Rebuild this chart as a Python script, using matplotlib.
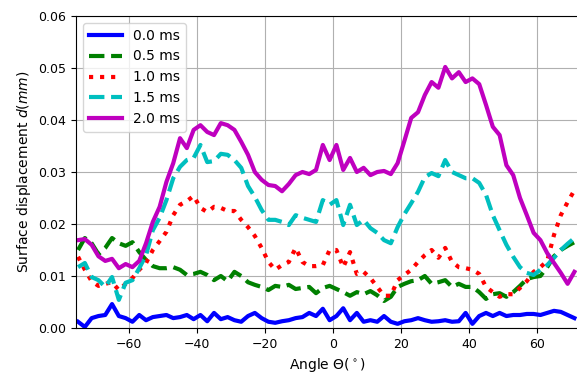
import matplotlib
matplotlib.use('Agg')
import matplotlib.pyplot as plt

# angle grid (deg)
angle = [-75, -73, -71, -69, -67, -65, -63, -61, -59, -57, -55, -53, -51, -49,
         -47, -45, -43, -41, -39, -37, -35, -33, -31, -29, -27, -25, -23, -21,
         -19, -17, -15, -13, -11, -9, -7, -5, -3, -1, 1, 3, 5, 7, 9, 11, 13,
         15, 17, 19, 21, 23, 25, 27, 29, 31, 33, 35, 37, 39, 41, 43, 45, 47,
         49, 51, 53, 55, 57, 59, 61, 63, 65, 67, 69, 71]

d_00 = [0.0012, 0.0002, 0.0019, 0.0023, 0.0025, 0.0046, 0.0023, 0.0019, 0.0012,
        0.0025, 0.0015, 0.0021, 0.0023, 0.0025, 0.0019, 0.0021, 0.0025, 0.0017,
        0.0025, 0.0013, 0.0029, 0.0017, 0.0021, 0.0015, 0.0012, 0.0023, 0.0029,
        0.0019, 0.0012, 0.0010, 0.0013, 0.0015, 0.0019, 0.0021, 0.0029, 0.0023,
        0.0037, 0.0015, 0.0023, 0.0038, 0.0015, 0.0029, 0.0012, 0.0015, 0.0012,
        0.0023, 0.0012, 0.0008, 0.0013, 0.0015, 0.0019, 0.0015, 0.0012, 0.0013,
        0.0015, 0.0012, 0.0013, 0.0029, 0.0008, 0.0023, 0.0029, 0.0023, 0.0029,
        0.0023, 0.0025, 0.0025, 0.0027, 0.0027, 0.0025, 0.0029, 0.0033, 0.0031,
        0.0025, 0.0019]

d_05 = [0.0150, 0.0173, 0.0163, 0.0142, 0.0154, 0.0173, 0.0163, 0.0158, 0.0165,
        0.0146, 0.0131, 0.0119, 0.0115, 0.0115, 0.0117, 0.0112, 0.0102, 0.0104,
        0.0108, 0.0102, 0.0092, 0.0100, 0.0090, 0.0108, 0.0100, 0.0088, 0.0083,
        0.0079, 0.0073, 0.0081, 0.0079, 0.0083, 0.0075, 0.0077, 0.0079, 0.0067,
        0.0077, 0.0081, 0.0075, 0.0069, 0.0062, 0.0069, 0.0065, 0.0071, 0.0063,
        0.0052, 0.0060, 0.0079, 0.0085, 0.0090, 0.0092, 0.0100, 0.0085, 0.0088,
        0.0092, 0.0079, 0.0085, 0.0079, 0.0079, 0.0069, 0.0056, 0.0065, 0.0067,
        0.0060, 0.0069, 0.0081, 0.0094, 0.0098, 0.0100, 0.0117, 0.0138, 0.0150,
        0.0158, 0.0165]

d_10 = [0.0137, 0.0112, 0.0090, 0.0081, 0.0085, 0.0088, 0.0073, 0.0085, 0.0096,
        0.0112, 0.0125, 0.0150, 0.0167, 0.0185, 0.0217, 0.0237, 0.0244, 0.0254,
        0.0231, 0.0223, 0.0233, 0.0231, 0.0225, 0.0225, 0.0208, 0.0194, 0.0177,
        0.0154, 0.0127, 0.0112, 0.0121, 0.0127, 0.0154, 0.0127, 0.0119, 0.0119,
        0.0121, 0.0150, 0.0150, 0.0117, 0.0146, 0.0104, 0.0108, 0.0096, 0.0079,
        0.0062, 0.0062, 0.0092, 0.0102, 0.0112, 0.0127, 0.0140, 0.0150, 0.0135,
        0.0154, 0.0127, 0.0117, 0.0115, 0.0112, 0.0104, 0.0079, 0.0069, 0.0060,
        0.0065, 0.0065, 0.0077, 0.0090, 0.0108, 0.0117, 0.0129, 0.0179, 0.0217,
        0.0242, 0.0265]

d_15 = [0.0117, 0.0125, 0.0098, 0.0092, 0.0079, 0.0098, 0.0054, 0.0087, 0.0092,
        0.0115, 0.0140, 0.0188, 0.0212, 0.0246, 0.0288, 0.0310, 0.0323, 0.0327,
        0.0352, 0.0319, 0.0321, 0.0335, 0.0333, 0.0323, 0.0308, 0.0273, 0.0252,
        0.0227, 0.0208, 0.0208, 0.0204, 0.0198, 0.0217, 0.0212, 0.0208, 0.0204,
        0.0246, 0.0237, 0.0246, 0.0198, 0.0237, 0.0198, 0.0208, 0.0192, 0.0183,
        0.0169, 0.0163, 0.0194, 0.0219, 0.0240, 0.0262, 0.0290, 0.0298, 0.0292,
        0.0323, 0.0300, 0.0294, 0.0288, 0.0288, 0.0279, 0.0256, 0.0217, 0.0188,
        0.0160, 0.0137, 0.0117, 0.0106, 0.0102, 0.0112, 0.0121, 0.0135, 0.0150,
        0.0162, 0.0173]

d_20 = [0.0169, 0.0171, 0.0160, 0.0138, 0.0129, 0.0133, 0.0115, 0.0123, 0.0117,
        0.0129, 0.0163, 0.0204, 0.0233, 0.0281, 0.0317, 0.0365, 0.0346, 0.0381,
        0.0390, 0.0377, 0.0371, 0.0394, 0.0390, 0.0381, 0.0358, 0.0333, 0.0300,
        0.0285, 0.0275, 0.0273, 0.0263, 0.0277, 0.0294, 0.0300, 0.0296, 0.0304,
        0.0352, 0.0323, 0.0352, 0.0304, 0.0327, 0.0300, 0.0308, 0.0294, 0.0300,
        0.0302, 0.0296, 0.0317, 0.0360, 0.0404, 0.0415, 0.0448, 0.0473, 0.0462,
        0.0502, 0.0480, 0.0492, 0.0473, 0.0480, 0.0469, 0.0429, 0.0387, 0.0371,
        0.0313, 0.0294, 0.0250, 0.0217, 0.0183, 0.0169, 0.0144, 0.0125, 0.0106,
        0.0085, 0.0108]

fig = plt.figure(figsize=(5.77, 3.75), dpi=100)
# right spine sits just past the image edge, as in the reference
ax = fig.add_axes([76 / 577, 47 / 375, 503 / 577, 312 / 375])

ax.plot(angle, d_00, color='b', linestyle='-', lw=3, label='0.0 ms')
ax.plot(angle, d_05, color='g', linestyle='--', lw=3, label='0.5 ms')
ax.plot(angle, d_10, color='r', linestyle=':', lw=3, label='1.0 ms')
ax.plot(angle, d_15, color='c', linestyle='--', lw=3, label='1.5 ms')
ax.plot(angle, d_20, color='m', linestyle='-', lw=3, label='2.0 ms')

ax.set_xlim(-75.6, 72.35)
ax.set_ylim(0, 0.06)
ax.grid(True)
ax.tick_params(labelsize=9)
ax.set_xlabel(r'Angle $\Theta(^\circ)$', fontsize=10)
ax.set_ylabel(r'Surface displacement $d(mm)$', fontsize=10)
ax.legend(loc='upper left', fontsize=10, handlelength=2.4)

fig.savefig('out.png', dpi=100)
